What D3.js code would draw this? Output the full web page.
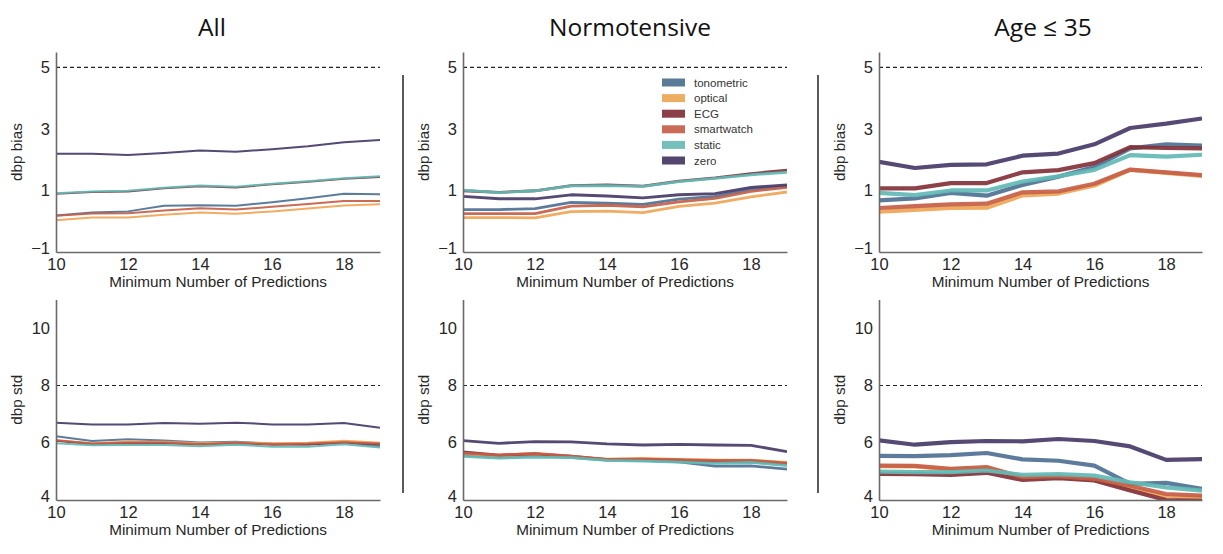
<!DOCTYPE html>
<html>
<head>
<meta charset="utf-8">
<script src="https://cdn.jsdelivr.net/npm/d3@7"></script>
<style>
  html, body { margin: 0; padding: 0; background: #fff; }
  svg { display: block; }
</style>
</head>
<body>
<svg id="chart" width="1223" height="554"></svg>
<script>
// ---------- data ----------
const xValues = [10, 11, 12, 13, 14, 15, 16, 17, 18, 19];
const seriesNames = ["tonometric", "optical", "ECG", "smartwatch", "static", "zero"];
const seriesColors = ["#4f7194", "#f0a556", "#823238", "#c65e48", "#62bab5", "#483a68"];
const legendColors = ["#5a7b98", "#eeae62", "#8a4046", "#c96b57", "#74bfbb", "#54476f"];
const panelTitles = ["All", "Normotensive", "Age \u2264 35"];
const biasTicks = [-1, 1, 3, 5];
const stdTicks = [4, 6, 8, 10];
const xTicks = [10, 12, 14, 16, 18];
const biasThreshold = 5;
const stdThreshold = 8;

// series order: tonometric, optical, ECG, smartwatch, static, zero
const allBias = [
  [0.19, 0.28, 0.32, 0.50, 0.52, 0.50, 0.62, 0.75, 0.89, 0.88],
  [0.03, 0.12, 0.12, 0.21, 0.28, 0.24, 0.32, 0.41, 0.51, 0.55],
  [0.89, 0.95, 0.97, 1.07, 1.14, 1.10, 1.20, 1.28, 1.38, 1.44],
  [0.18, 0.25, 0.26, 0.35, 0.42, 0.38, 0.47, 0.56, 0.66, 0.66],
  [0.91, 0.97, 0.99, 1.09, 1.16, 1.12, 1.22, 1.30, 1.40, 1.46],
  [2.19, 2.19, 2.15, 2.22, 2.30, 2.26, 2.34, 2.44, 2.57, 2.64]
];
const normBias = [
  [0.38, 0.38, 0.41, 0.61, 0.59, 0.55, 0.72, 0.81, 1.04, 1.13],
  [0.12, 0.12, 0.11, 0.31, 0.33, 0.28, 0.48, 0.59, 0.79, 0.95],
  [0.99, 0.94, 0.99, 1.16, 1.18, 1.14, 1.30, 1.41, 1.55, 1.66],
  [0.25, 0.25, 0.25, 0.49, 0.52, 0.47, 0.63, 0.74, 0.97, 1.10],
  [1.01, 0.93, 0.99, 1.15, 1.16, 1.13, 1.29, 1.39, 1.51, 1.59],
  [0.81, 0.73, 0.73, 0.86, 0.82, 0.76, 0.86, 0.90, 1.10, 1.18]
];
const ageBias = [
  [0.68, 0.74, 0.92, 0.83, 1.18, 1.45, 1.76, 2.37, 2.50, 2.46],
  [0.31, 0.37, 0.43, 0.44, 0.84, 0.90, 1.16, 1.67, 1.57, 1.47],
  [1.07, 1.07, 1.24, 1.24, 1.59, 1.66, 1.89, 2.41, 2.38, 2.37],
  [0.43, 0.49, 0.55, 0.57, 0.94, 0.97, 1.22, 1.68, 1.59, 1.50],
  [0.92, 0.85, 1.00, 1.00, 1.29, 1.46, 1.67, 2.15, 2.10, 2.16],
  [1.93, 1.73, 1.83, 1.85, 2.13, 2.20, 2.50, 3.03, 3.17, 3.34]
];
const allStd = [
  [6.23, 6.06, 6.12, 6.08, 6.01, 6.03, 5.97, 5.94, 6.01, 5.88],
  [6.09, 5.98, 6.03, 6.03, 5.98, 6.01, 5.98, 6.00, 6.07, 6.00],
  [6.07, 5.95, 5.98, 5.98, 5.94, 5.98, 5.93, 5.94, 6.00, 5.95],
  [6.09, 5.97, 6.01, 6.01, 5.95, 5.99, 5.95, 5.97, 6.02, 5.97],
  [5.98, 5.91, 5.92, 5.92, 5.88, 5.93, 5.86, 5.86, 5.95, 5.83],
  [6.70, 6.64, 6.64, 6.69, 6.66, 6.70, 6.64, 6.64, 6.69, 6.52]
];
const normStd = [
  [5.57, 5.50, 5.55, 5.49, 5.39, 5.38, 5.33, 5.18, 5.19, 5.08],
  [5.61, 5.54, 5.59, 5.50, 5.43, 5.45, 5.42, 5.39, 5.39, 5.31],
  [5.68, 5.57, 5.61, 5.53, 5.41, 5.41, 5.39, 5.34, 5.34, 5.26],
  [5.64, 5.57, 5.63, 5.53, 5.42, 5.43, 5.40, 5.38, 5.38, 5.29],
  [5.52, 5.46, 5.50, 5.48, 5.38, 5.36, 5.32, 5.28, 5.31, 5.20],
  [6.07, 5.98, 6.04, 6.03, 5.96, 5.92, 5.94, 5.92, 5.91, 5.69]
];
const ageStd = [
  [5.54, 5.53, 5.57, 5.64, 5.42, 5.37, 5.20, 4.56, 4.60, 4.39],
  [5.18, 5.17, 5.07, 5.12, 4.78, 4.81, 4.71, 4.42, 4.13, 4.09],
  [4.91, 4.90, 4.88, 4.95, 4.70, 4.76, 4.68, 4.33, 4.00, 3.97],
  [5.20, 5.19, 5.09, 5.15, 4.80, 4.83, 4.74, 4.50, 4.21, 4.15],
  [4.99, 4.97, 4.97, 5.03, 4.88, 4.90, 4.85, 4.62, 4.44, 4.33],
  [6.08, 5.93, 6.02, 6.06, 6.05, 6.13, 6.06, 5.87, 5.40, 5.43]
];

// ---------- layout ----------
const svg = d3.select("#chart");
const colLeft = [56, 463, 879];
const colRight = [380, 787, 1202];
const colStroke = [2, 2.8, 4.2];
const titleX = [212, 630, 1043];
const rows = [
  { top: 52, bottom: 252, domain: [-1, 5.5], ticks: biasTicks, label: "dbp bias", thr: biasThreshold,
    data: [allBias, normBias, ageBias] },
  { top: 299.5, bottom: 500, domain: [4, 11], ticks: stdTicks, label: "dbp std", thr: stdThreshold,
    data: [allStd, normStd, ageStd] }
];
const tickFont = "'Liberation Sans', Arial, sans-serif";
const textColor = "#262626";
const fmt = d => (d < 0 ? "\u2212" + Math.abs(d) : String(d));

// titles
panelTitles.forEach((t, i) => {
  svg.append("text")
    .attr("x", titleX[i]).attr("y", 36)
    .attr("text-anchor", "middle")
    .style("font-family", "'Open Sans', sans-serif")
    .style("font-size", "24.5px")
    .style("fill", "#111")
    .text(t);
});

// separators
[403, 818].forEach(x => {
  svg.append("line")
    .attr("x1", x).attr("x2", x).attr("y1", 75).attr("y2", 493)
    .attr("stroke", "#000").attr("stroke-width", 1.3);
});

rows.forEach((row, ri) => {
  for (let ci = 0; ci < 3; ci++) {
    const x = d3.scaleLinear().domain([10, 19]).range([colLeft[ci], colRight[ci]]);
    const y = d3.scaleLinear().domain(row.domain).range([row.bottom, row.top]);
    const g = svg.append("g");
    const clipId = `clip-${ri}-${ci}`;
    svg.append("clipPath").attr("id", clipId)
      .append("rect")
      .attr("x", colLeft[ci]).attr("y", row.top)
      .attr("width", colRight[ci] - colLeft[ci]).attr("height", row.bottom - row.top);

    // threshold dashed line
    g.append("line")
      .attr("x1", x(10)).attr("x2", x(19))
      .attr("y1", y(row.thr)).attr("y2", y(row.thr))
      .attr("stroke", "#222").attr("stroke-width", 1.1)
      .attr("stroke-dasharray", "4,3");

    // lines
    const line = d3.line().x((d, i) => x(xValues[i])).y(d => y(d));
    const lg = g.append("g").attr("clip-path", `url(#${clipId})`);
    row.data[ci].forEach((vals, si) => {
      lg.append("path")
        .datum(vals)
        .attr("d", line)
        .attr("fill", "none")
        .attr("stroke", seriesColors[si])
        .attr("stroke-width", colStroke[ci])
        .attr("stroke-opacity", 0.92)
        .attr("stroke-linejoin", "round");
    });

    // axes
    const yAxis = d3.axisLeft(y).tickValues(row.ticks).tickSize(0).tickPadding(6).tickFormat(fmt);
    const ya = g.append("g").attr("transform", `translate(${colLeft[ci]},0)`).call(yAxis);
    const xAxis = d3.axisBottom(x).tickValues(xTicks).tickSize(0).tickPadding(6).tickFormat(d3.format("d"));
    const xa = g.append("g").attr("transform", `translate(0,${row.bottom})`).call(xAxis);
    [ya, xa].forEach(a => {
      a.select(".domain").attr("stroke", "#6a6a6a").attr("stroke-width", 1.6);
      a.selectAll("text")
        .style("font-family", tickFont)
        .style("font-size", "16.5px")
        .style("fill", textColor);
    });
    // lowest y tick sits just above the x tick labels, as in the reference
    ya.selectAll(".tick text").filter(d => d === row.domain[0]).attr("dy", "0.1em");

    // axis labels
    g.append("text")
      .attr("x", (colLeft[ci] + colRight[ci]) / 2)
      .attr("y", row.bottom + 35)
      .attr("text-anchor", "middle")
      .style("font-family", tickFont)
      .style("font-size", "15.3px")
      .style("fill", textColor)
      .text("Minimum Number of Predictions");

    g.append("text")
      .attr("transform", `translate(${colLeft[ci] - 34},${(row.top + row.bottom) / 2}) rotate(-90)`)
      .attr("text-anchor", "middle")
      .style("font-family", tickFont)
      .style("font-size", "15.3px")
      .style("fill", textColor)
      .text(row.label);

    // legend in top-middle panel
    if (ri === 0 && ci === 1) {
      const lgd = svg.append("g");
      seriesNames.forEach((name, si) => {
        const yy = 82.5 + si * 15.6;
        lgd.append("rect")
          .attr("x", 662).attr("y", yy - 4)
          .attr("width", 23).attr("height", 8)
          .attr("fill", legendColors[si]);
        lgd.append("text")
          .attr("x", 694).attr("y", yy + 4)
          .style("font-family", tickFont)
          .style("font-size", "11.5px")
          .style("fill", "#333")
          .text(name);
      });
    }
  }
});
</script>
</body>
</html>
